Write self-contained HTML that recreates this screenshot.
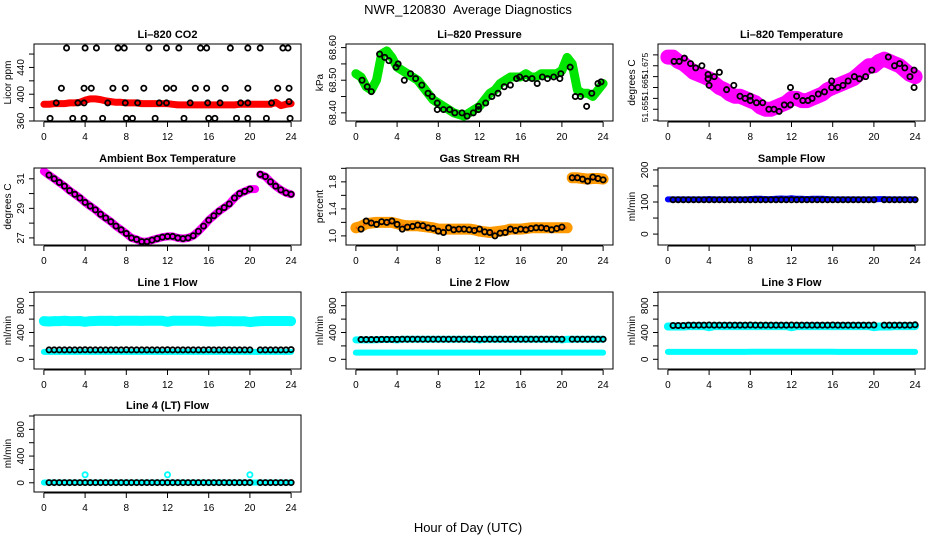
<!DOCTYPE html>
<html><head><meta charset="utf-8">
<style>
html,body{margin:0;padding:0;background:#fff;}
svg{display:block;font-family:"Liberation Sans",Arial,sans-serif;}
</style></head>
<body>
<svg id="fig" width="936" height="540" viewBox="0 0 936 540" xmlns="http://www.w3.org/2000/svg">
<text x="468" y="14" text-anchor="middle" font-size="13">NWR_120830&#160;&#160;Average Diagnostics</text>
<text x="468" y="532" text-anchor="middle" font-size="13">Hour of Day (UTC)</text>
</svg>
<script>
const H = [0,0.5,1,1.5,2,2.5,3,3.5,4,4.5,5,5.5,6,6.5,7,7.5,8,8.5,9,9.5,10,10.5,11,11.5,12,12.5,13,13.5,14,14.5,15,15.5,16,16.5,17,17.5,18,18.5,19,19.5,20,20.5,21,21.5,22,22.5,23,23.5,24];
const HB = [0.5,1,1.5,2,2.5,3,3.5,4,4.5,5,5.5,6,6.5,7,7.5,8,8.5,9,9.5,10,10.5,11,11.5,12,12.5,13,13.5,14,14.5,15,15.5,16,16.5,17,17.5,18,18.5,19,19.5,20,21,21.5,22,22.5,23,23.5,24];
const xTicks = [0,4,8,12,16,20,24];

// CO2
const co2Red = [385,385,386,386,386,387,387,388,391,393,393,392,390,389,388,388,387,387,387,386,386,386,386,386,386,385,384,384,384,384,384,384,384,384,384,384,384,384,385,385,385,385,385,385,385,388,383,385,386];
const co2BlkH = [2.2,4.0,5.1,7.2,7.8,10.2,11.9,13.1,15.2,15.8,18.1,19.8,21.0,23.2,23.7, 1.7,3.9,4.6,6.7,7.9,9.7,11.9,12.6,14.7,15.8,17.6,19.8,22.7,23.8, 0.6,2.8,3.9,5.7,8.0,8.6,10.8,13.6,16.0,16.6,18.7,19.8,21.6,23.9, 1.2,3.3,3.9,6.2,7.9,9.1,11.2,11.9,14.2,15.9,17.1,19.1,19.8,22.1,23.8];
const co2BlkV = [469,469,469,469,469,469,469,469,469,469,469,469,469,469,469, 409,409,409,409,409,409,409,409,409,409,409,409,409,409, 364,364,364,364,364,364,364,364,364,364,364,364,364,364, 387,387,387,387,387,387,387,387,387,387,387,387,387,387,389];
// Pressure
const presGreen = [68.52,68.51,68.48,68.47,68.50,68.58,68.59,68.57,68.54,68.53,68.52,68.51,68.50,68.48,68.46,68.44,68.43,68.42,68.41,68.40,68.395,68.39,68.40,68.41,68.42,68.44,68.46,68.47,68.49,68.50,68.51,68.51,68.51,68.52,68.51,68.51,68.52,68.52,68.52,68.52,68.53,68.57,68.55,68.47,68.46,68.46,68.45,68.47,68.49];
const presBlkH = [0.6,1.1,1.5,2.3,2.8,3.2,3.9,4.1,4.7,5.3,5.8,6.4,7.0,7.4,7.9,7.9,8.5,9.1,9.6,10.3,10.8,11.4,11.9,11.9,12.6,13.2,13.8,14.4,15.0,15.6,15.9,16.5,17.1,17.6,18.1,18.6,19.2,19.8,19.9,20.8,21.3,21.8,22.4,22.9,23.5,23.8];
const presBlkV = [68.50,68.48,68.465,68.58,68.57,68.56,68.54,68.55,68.50,68.52,68.505,68.485,68.46,68.45,68.43,68.41,68.41,68.41,68.40,68.40,68.39,68.40,68.41,68.42,68.43,68.45,68.46,68.48,68.485,68.505,68.51,68.505,68.505,68.49,68.51,68.505,68.51,68.505,68.52,68.54,68.45,68.45,68.42,68.46,68.49,68.495];
// Li-820 temperature
const tempMag = [51.679,51.679,51.677,51.676,51.674,51.672,51.671,51.670,51.669,51.667,51.665,51.664,51.662,51.661,51.661,51.660,51.659,51.658,51.656,51.655,51.655,51.656,51.657,51.658,51.660,51.660,51.659,51.659,51.660,51.661,51.662,51.664,51.665,51.666,51.667,51.668,51.669,51.671,51.673,51.675,51.675,51.677,51.678,51.677,51.676,51.675,51.673,51.671,51.670];
const tempBlkH = [0.6,1.1,1.6,2.2,2.7,3.3,3.9,3.9,4.0,4.5,5.0,5.7,6.4,7.0,7.5,8.0,8.0,8.6,9.2,9.8,10.3,10.8,11.3,11.9,11.9,12.5,13.1,13.6,14.0,14.6,15.2,15.9,15.9,16.5,17.0,17.5,18.1,18.6,19.2,19.8,21.4,22.0,22.5,23.0,23.5,23.9,23.9];
const tempBlkV = [51.677,51.677,51.6785,51.676,51.674,51.675,51.671,51.669,51.666,51.670,51.672,51.664,51.666,51.661,51.660,51.659,51.661,51.658,51.658,51.655,51.655,51.654,51.657,51.657,51.665,51.661,51.659,51.659,51.660,51.662,51.663,51.668,51.665,51.665,51.666,51.668,51.670,51.669,51.670,51.673,51.679,51.675,51.676,51.674,51.670,51.673,51.665];
// Ambient box temperature
const ambMag = [31.5,31.25,31.0,30.75,30.5,30.2,29.95,29.7,29.4,29.15,28.9,28.6,28.35,28.1,27.8,27.55,27.3,27.0,26.9,26.75,26.75,26.85,26.95,27.05,27.1,27.1,27.0,26.95,27.0,27.15,27.45,27.8,28.2,28.5,28.8,29.05,29.3,29.7,30.0,30.15,30.3,30.3,31.3,31.15,30.8,30.5,30.25,30.05,29.95];
const ambBlk = [31.25,31.0,30.75,30.5,30.2,29.95,29.7,29.4,29.15,28.9,28.6,28.35,28.1,27.8,27.55,27.3,27.0,26.9,26.75,26.75,26.85,26.95,27.05,27.1,27.1,27.0,26.95,27.0,27.15,27.45,27.8,28.2,28.5,28.8,29.05,29.3,29.7,30.0,30.15,30.3,31.3,31.15,30.8,30.5,30.25,30.05,29.95];
// Gas stream RH
const rhOrange = [1.12,1.14,1.18,1.19,1.2,1.2,1.2,1.2,1.18,1.16,1.15,1.15,1.15,1.14,1.13,1.12,1.1,1.1,1.1,1.1,1.1,1.1,1.1,1.09,1.07,1.06,1.05,1.06,1.07,1.08,1.1,1.1,1.1,1.11,1.12,1.12,1.12,1.12,1.12,1.12,1.12,1.12,1.86,1.86,1.85,1.84,1.85,1.85,1.84];
const rhBlk = [1.1,1.22,1.19,1.17,1.21,1.2,1.22,1.17,1.1,1.13,1.14,1.16,1.15,1.12,1.11,1.07,1.05,1.12,1.09,1.1,1.1,1.09,1.08,1.1,1.06,1.05,1.0,1.04,1.05,1.1,1.08,1.1,1.09,1.11,1.12,1.12,1.11,1.09,1.11,1.13,1.86,1.86,1.84,1.81,1.87,1.85,1.83];
// Sample flow
const sampBlue = [108,108,108,108,108,108,108,108,109,108,108,108,108,108,108,108,109,110,110,109,109,110,111,110,112,110,110,109,110,110,110,109,108,108,108,108,108,108,108,108,108,109,109,108,108,108,108,108,108];
const sampBlk = [107,107,107,107,107,107,107,107,107,107,107,107,107,107,107,107,107,107,107,107,107,107,107,107,107,107,107,107,107,107,107,107,107,107,107,107,107,107,107,107,107,107,107,107,107,107,107];
// Line flows
const l1High = [570,565,570,570,575,570,570,572,560,570,572,575,573,575,570,575,575,575,575,574,575,575,575,575,560,575,575,575,575,575,575,570,565,565,570,570,570,568,568,568,555,565,570,572,572,572,572,572,570];
const l1Low = [110,110,110,110,110,110,110,110,110,110,110,110,110,110,110,110,110,110,110,110,110,110,110,110,110,110,110,110,110,110,110,110,110,110,110,110,110,110,110,110,110,110,110,110,110,110,110,110,110];
const l1Blk = [140,140,140,140,140,140,140,142,140,140,140,140,140,140,140,142,140,140,140,140,140,140,140,142,140,140,140,140,140,140,140,142,140,140,140,140,140,140,140,140,140,140,140,140,140,140,145];
const l2High = [290,290,290,290,292,295,295,295,290,300,300,300,300,300,300,300,300,300,300,300,300,300,300,300,290,300,300,300,300,300,300,300,300,300,300,300,300,300,300,300,290,300,300,300,300,300,300,300,300];
const l2Low = [100,100,100,100,100,100,100,100,100,100,100,100,100,100,100,100,100,100,100,100,100,100,100,100,100,100,100,100,100,100,100,100,100,100,100,100,100,100,100,100,100,100,100,100,100,100,100,100,100];
const l2Blk = [295,295,295,295,298,298,298,298,300,300,300,300,300,300,300,300,300,300,300,300,300,300,300,300,300,300,300,300,300,300,300,300,300,300,300,300,300,300,300,300,300,300,300,300,300,300,300];
const l3High = [490,490,490,490,495,495,495,495,480,495,495,495,495,495,495,495,495,495,495,495,495,495,495,495,480,495,495,495,495,495,495,495,495,495,495,495,495,495,495,495,480,490,490,490,495,495,495,495,495];
const l3Low = [110,110,110,110,110,110,110,110,110,110,110,110,110,110,110,110,112,112,112,112,112,112,112,112,112,112,112,112,112,112,112,112,112,110,110,110,110,110,110,110,110,110,110,110,110,110,110,110,110];
const l3Blk = [505,505,505,510,510,510,510,512,510,510,510,510,510,510,510,512,510,510,510,510,510,510,510,512,510,510,510,510,510,510,510,512,510,510,510,510,510,510,510,512,510,510,510,510,510,510,515];
const l4Cyan = [5,5,5,5,5,5,5,5,5,5,5,5,5,5,5,5,5,5,5,5,5,5,5,5,5,5,5,5,5,5,5,5,5,5,5,5,5,5,5,5,5,5,5,5,5,5,5,5,5];
const l4SpikeH = [4,12,20];
const l4SpikeV = [120,120,120];
const l4Blk = [3,3,3,3,3,3,3,3,3,3,3,3,3,3,3,3,3,3,3,3,3,3,3,3,3,3,3,3,3,3,3,3,3,3,3,3,3,3,3,3,3,3,3,3,3,3,3];

const svg = document.getElementById('fig');
const NS = 'http://www.w3.org/2000/svg';
const colL = [34,346,658], rowT = [44,168,292,415], PW = 267, PH = 77;
function mk(tag, attrs, parent){ const e=document.createElementNS(NS,tag); for(const k in attrs) e.setAttribute(k,attrs[k]); (parent||svg).appendChild(e); return e; }

function panel(col,row,name,title,ylab,ydom,yticks,ylabels,layers,yfs){
  const L=colL[col], T=rowT[row];
  const g = mk('g',{});
  
  
  const xs = h => L + (h+0.96)/25.92*PW;
  const ys = v => T + PH - (v-ydom[0])/(ydom[1]-ydom[0])*PH;
  const clip = mk('clipPath',{id:'c'+name},g);
  mk('rect',{x:L,y:T,width:PW,height:PH},clip);
  const pg = mk('g',{'clip-path':'url(#c'+name+')'},g);
  
  
  layers.forEach(ly=>{
    if(ly.band){
      let d='', pen=false;
      ly.x.forEach((h,i)=>{ const v=ly.y[i]; if(v==null){pen=false;return;} d+=(pen?'L':'M')+xs(h).toFixed(1)+','+ys(v).toFixed(1); pen=true; });
      const p = mk('path',{d:d,fill:'none',stroke:ly.color,'stroke-width':ly.band,'stroke-linecap':'round','stroke-linejoin':'round'},pg);
      
      
      if(ly.overlay){
        const q = mk('path',{d:d,fill:'none',stroke:ly.overlay,'stroke-width':2,'stroke-dasharray':'1 3',opacity:0.6},pg);
        
        
      }
    } else {
      ly.x.forEach((h,i)=>{
        const c = mk('circle',{cx:xs(h),cy:ys(ly.y[i]),r:ly.r||2.6,fill:'none',stroke:ly.color,'stroke-width':ly.sw||1.8},pg);
        
        
      });
    }
  });
  const box = mk('rect',{x:L,y:T,width:PW,height:PH,fill:'none',stroke:'#000','stroke-width':1},g);
  
  
  const t = mk('text',{x:L+PW/2,y:T-6,'text-anchor':'middle','font-size':11,'font-weight':'bold'},g);
  t.textContent=title;
  
  
  const yl = mk('text',{transform:'translate('+(L-23)+','+(T+PH/2)+') rotate(-90)','text-anchor':'middle','font-size':10},g);
  yl.textContent=ylab;
  
  
  const xa = mk('g',{},g);
  
  
  mk('line',{x1:xs(xTicks[0]),x2:xs(xTicks[xTicks.length-1]),y1:T+PH+1,y2:T+PH+1,stroke:'#000'},xa);
  xTicks.forEach(h=>{
    mk('line',{x1:xs(h),x2:xs(h),y1:T+PH+1,y2:T+PH+6,stroke:'#000'},xa);
    const tl = mk('text',{x:xs(h),y:T+PH+19,'text-anchor':'middle','font-size':10},xa);
    tl.textContent=String(h);
    
    
  });
  const ya = mk('g',{},g);
  
  
  yticks.forEach((v,i)=>{
    const y=ys(v);
    mk('line',{x1:L-5,x2:L,y1:y,y2:y,stroke:'#000'},ya);
    if(ylabels[i]){
      const tl = mk('text',{transform:'translate('+(L-10)+','+y+') rotate(-90)','text-anchor':'middle','font-size':yfs||10},ya);
      tl.textContent=ylabels[i];
      
      
    }
  });
}

const flowTicks=[0,200,400,600,800,1000], flowLab=['0','','400','','800',''];
panel(0,0,'co2','Li\u2013820 CO2','Licor ppm',[360,475],[360,380,400,420,440,460],['360','','400','','440',''],[
  {band:7,x:H,y:co2Red,color:'#ff0000',name:'co2-series'},
  {x:co2BlkH,y:co2BlkV,color:'#000',name:'co2-average-point'}]);
panel(1,0,'pressure','Li\u2013820 Pressure','kPa',[68.375,68.611],[68.40,68.45,68.50,68.55,68.60],['68.40','','68.50','','68.60'],[
  {band:9,x:H,y:presGreen,color:'#00e600',name:'pressure-series'},
  {x:presBlkH,y:presBlkV,color:'#000',name:'pressure-average-point'}]);
panel(2,0,'li820-temp','Li\u2013820 Temperature','degrees C',[51.6496,51.685],[51.65,51.655,51.66,51.665,51.67,51.675,51.68],['','51.655','','51.665','','51.675',''],[
  {band:15,x:H,y:tempMag,color:'#ff00ff',name:'li820-temp-series'},
  {x:tempBlkH,y:tempBlkV,color:'#000',name:'li820-temp-average-point'}],8.5);
panel(0,1,'ambient','Ambient Box Temperature','degrees C',[26.52,31.73],[27,28,29,30,31],['27','','29','','31'],[
  {band:8,x:H.slice(0,42),y:ambMag.slice(0,42),color:'#ff00ff',name:'ambient-series'},
  {band:8,x:H.slice(42),y:ambMag.slice(42),color:'#ff00ff',name:'ambient-series'},
  {x:HB,y:ambBlk,color:'#000',name:'ambient-average-point'}]);
panel(1,1,'rh','Gas Stream RH','percent',[0.865,2.005],[1.0,1.2,1.4,1.6,1.8,2.0],['1.0','','1.4','','1.8',''],[
  {band:11,x:H.slice(0,42),y:rhOrange.slice(0,42),color:'#ff9900',overlay:'#ff0000',name:'rh-series'},
  {band:11,x:H.slice(42),y:rhOrange.slice(42),color:'#ff9900',overlay:'#ff0000',name:'rh-series'},
  {x:HB,y:rhBlk,color:'#000',name:'rh-average-point'}]);
panel(2,1,'sample-flow','Sample Flow','ml/min',[-34,206],[0,50,100,150,200],['0','','100','','200'],[
  {band:6,x:H,y:sampBlue,color:'#0000ff',name:'sample-flow-series'},
  {x:HB,y:sampBlk,color:'#000',name:'sample-flow-average-point'}]);
panel(0,2,'line1','Line 1 Flow','ml/min',[-145,1005],flowTicks,flowLab,[
  {band:10,x:H,y:l1High,color:'#00ffff',name:'line1-flow-series'},
  {band:6,x:H,y:l1Low,color:'#00ffff',name:'line1-low-series'},
  {x:HB,y:l1Blk,color:'#000',name:'line1-average-point'}]);
panel(1,2,'line2','Line 2 Flow','ml/min',[-145,1005],flowTicks,flowLab,[
  {band:7,x:H,y:l2High,color:'#00ffff',name:'line2-flow-series'},
  {band:6,x:H,y:l2Low,color:'#00ffff',name:'line2-low-series'},
  {x:HB,y:l2Blk,color:'#000',name:'line2-average-point'}]);
panel(2,2,'line3','Line 3 Flow','ml/min',[-145,1005],flowTicks,flowLab,[
  {band:8,x:H,y:l3High,color:'#00ffff',name:'line3-flow-series'},
  {band:6,x:H,y:l3Low,color:'#00ffff',name:'line3-low-series'},
  {x:HB,y:l3Blk,color:'#000',name:'line3-average-point'}]);
panel(0,3,'line4','Line 4 (LT) Flow','ml/min',[-138,1015],flowTicks,flowLab,[
  {band:6,x:H,y:l4Cyan,color:'#00ffff',name:'line4-flow-series'},
  {x:l4SpikeH,y:l4SpikeV,color:'#00ffff',name:'line4-spike-point'},
  {x:HB,y:l4Blk,color:'#000',name:'line4-average-point'}]);
</script>
</body></html>
